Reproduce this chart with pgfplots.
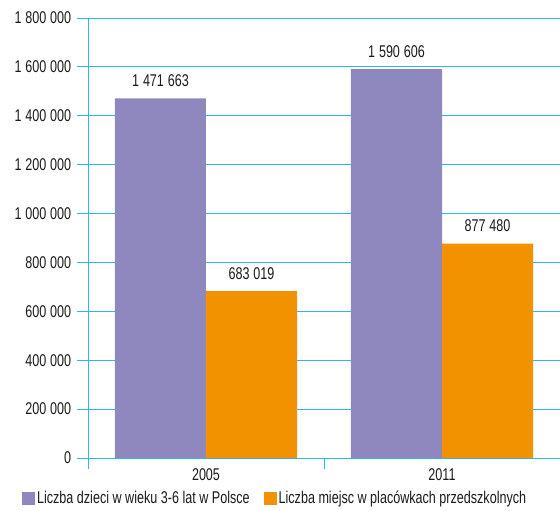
\documentclass[border=0pt]{standalone}
\usepackage{fontspec}
\setmainfont{Liberation Sans}[FakeStretch=0.74]
\usepackage{pgfplots}
\pgfplotsset{compat=1.18}
\definecolor{gridc}{RGB}{45,182,232}
\definecolor{fiolet}{RGB}{143,136,191}
\definecolor{pomar}{RGB}{242,146,0}
\definecolor{tekst}{RGB}{26,26,26}

\pgfplotsset{sq legend/.style={legend image code/.code={\fill[##1] (0pt,-6.5pt) rectangle (13pt,6.5pt);}}}

\begin{document}
\fontsize{17}{20}\selectfont
\begin{tikzpicture}
\useasboundingbox (0,0) rectangle (560pt,511pt);
\begin{axis}[
  at={(88pt,53pt)}, anchor=south west,
  scale only axis, width=472pt, height=440pt,
  ybar=0pt, bar width=91pt,
  xmin=-0.5, xmax=1.5, ymin=0, ymax=1800000,
  axis x line=bottom, axis y line=left,
  axis line style={-, draw=gridc, line width=0.9pt},
  xtick={-0.5,0.5,1.5}, xticklabels={},
  extra x ticks={0,1}, extra x tick labels={2005,2011},
  extra x tick style={major tick length=0pt, tick label style={yshift=-5pt}},
  ytick={0,200000,400000,600000,800000,1000000,1200000,1400000,1600000,1800000},
  scaled y ticks=false,
  ymajorgrids, grid style={draw=gridc, line width=0.9pt},
  tick align=outside, major tick length=11pt,
  tick style={draw=gridc, line width=0.9pt},
  tick label style={text=tekst},
  /pgf/number format/.cd, fixed, precision=0, 1000 sep={\hskip3.8pt}, assume math mode=true,
  /pgfplots/.cd,
  nodes near coords,
  nodes near coords style={text=tekst, yshift=6pt},
  legend style={at={(-0.14,-0.092)}, anchor=west, draw=none, fill=none,
    inner sep=0pt, text=tekst,
    /tikz/every even column/.append style={column sep=12pt}},
  legend columns=2,
]
\addplot[fill=fiolet, draw=none, sq legend] coordinates {(0,1471663) (1,1590606)};
\addplot[fill=pomar, draw=none, sq legend] coordinates {(0,683019) (1,877480)};
\legend{Liczba dzieci w wieku 3-6 lat w Polsce, Liczba miejsc w placówkach przedszkolnych}
\end{axis}
\end{tikzpicture}
\end{document}
